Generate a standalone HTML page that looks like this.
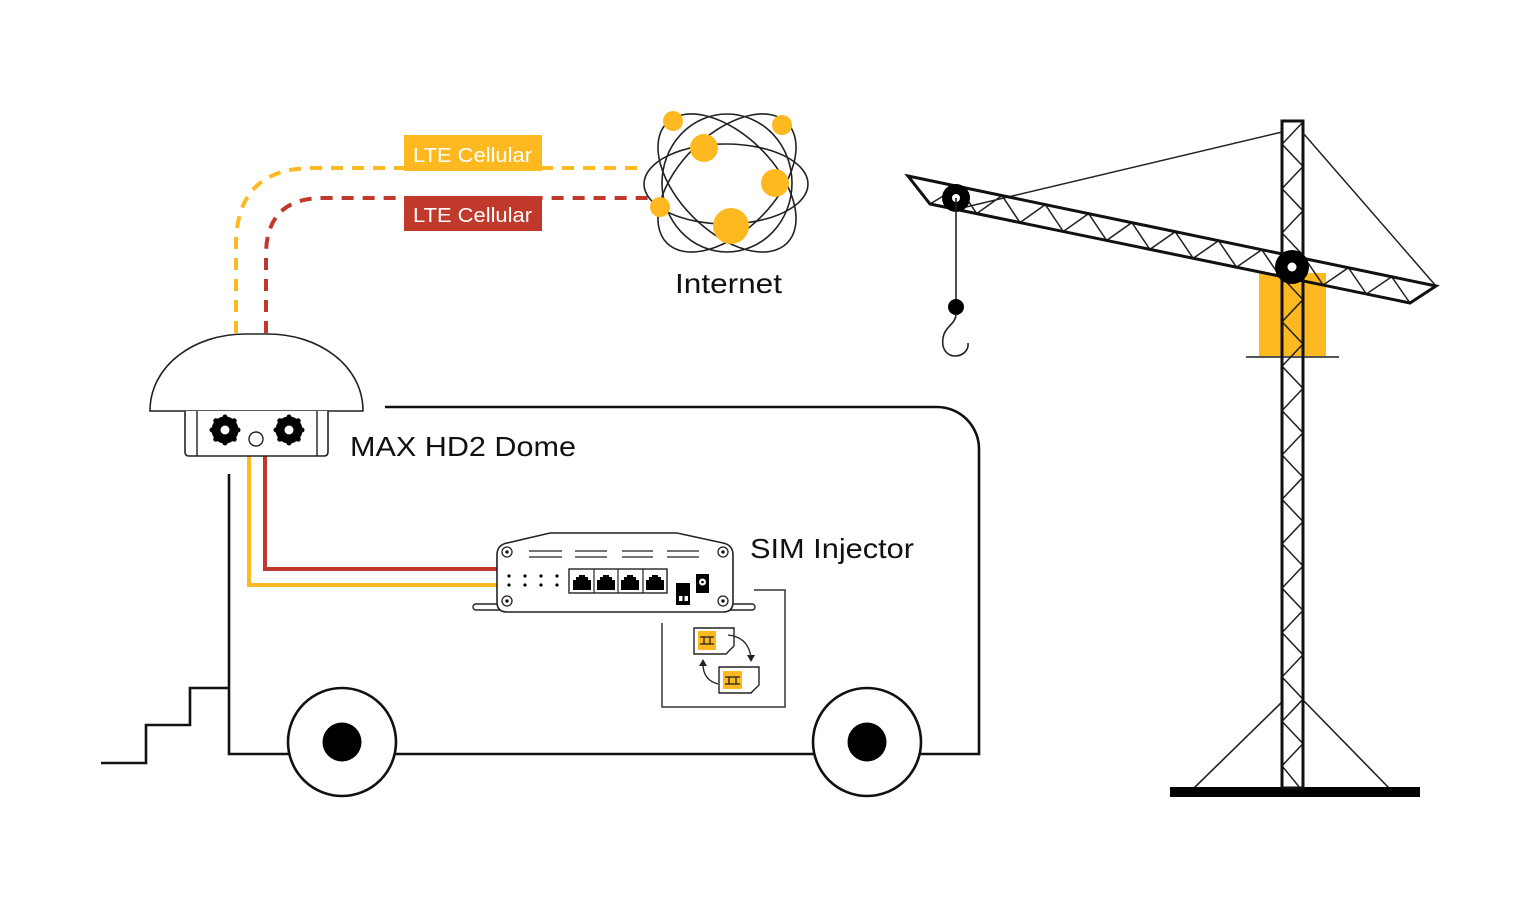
<!DOCTYPE html>
<html><head><meta charset="utf-8"><style>
html,body{margin:0;padding:0;background:#fff;}
svg{display:block;}
text{font-family:"Liberation Sans",sans-serif;}
</style></head><body>
<svg width="1536" height="900" viewBox="0 0 1536 900" xmlns="http://www.w3.org/2000/svg">
<rect width="1536" height="900" fill="#fff"/>

<!-- dashed LTE links -->
<path d="M236,333 V245 Q236,168 313,168 H645" fill="none" stroke="#FDB91F" stroke-width="4" stroke-dasharray="12 9"/>
<path d="M266,333 V255 Q266,198 323,198 H648" fill="none" stroke="#C0392B" stroke-width="4" stroke-dasharray="12 9"/>
<rect x="404" y="135" width="138" height="36" fill="#FDB91F"/>
<text x="413" y="162" font-size="20" fill="#fff" textLength="119" lengthAdjust="spacingAndGlyphs">LTE Cellular</text>
<rect x="404" y="196" width="138" height="35" fill="#C0392B"/>
<text x="413" y="222" font-size="20" fill="#fff" textLength="119" lengthAdjust="spacingAndGlyphs">LTE Cellular</text>

<!-- Internet globe -->
<g fill="none" stroke="#222" stroke-width="1.6">
<ellipse cx="726" cy="184" rx="82" ry="40"/>
<ellipse cx="727" cy="183" rx="85" ry="48" transform="rotate(45 727 183)"/>
<ellipse cx="727" cy="183" rx="85" ry="48" transform="rotate(-45 727 183)"/>
<ellipse cx="727" cy="183" rx="65" ry="69"/>
</g>
<g fill="#FDB91F">
<circle cx="673" cy="121" r="10"/>
<circle cx="782" cy="125" r="10"/>
<circle cx="704" cy="148" r="14"/>
<circle cx="775" cy="183" r="14"/>
<circle cx="660" cy="207" r="10"/>
<circle cx="731" cy="226" r="18"/>
</g>
<text x="675" y="293" font-size="28" fill="#111" textLength="107" lengthAdjust="spacingAndGlyphs">Internet</text>

<!-- Van body -->
<path d="M385,407 H937 A42,42 0 0 1 979,449 V754 H229 V474" fill="none" stroke="#111" stroke-width="2.6"/>
<path d="M229,688 H190 V725 H146 V763 H101" fill="none" stroke="#111" stroke-width="2.6"/>
<circle cx="342" cy="742" r="54" fill="#fff" stroke="#111" stroke-width="2.6"/>
<circle cx="342" cy="742" r="19.5" fill="#000"/>
<circle cx="867" cy="742" r="54" fill="#fff" stroke="#111" stroke-width="2.6"/>
<circle cx="867" cy="742" r="19.5" fill="#000"/>

<!-- cables -->
<path d="M265,456 V569 H498" fill="none" stroke="#C0392B" stroke-width="4"/>
<path d="M249,456 V585 H498" fill="none" stroke="#FDB91F" stroke-width="4"/>

<!-- Dome -->
<path d="M150,411 C150,365 195,334 245,334 L268,334 C318,334 363,365 363,411 Z" fill="#fff" stroke="#222" stroke-width="1.6"/>
<path d="M185,411 V452 Q185,456 189,456 H324 Q328,456 328,452 V411" fill="#fff" stroke="#222" stroke-width="1.6"/>
<line x1="197" y1="411" x2="197" y2="456" stroke="#222" stroke-width="1.4"/>
<line x1="317" y1="411" x2="317" y2="456" stroke="#222" stroke-width="1.4"/>
<g fill="#000">
<circle cx="225" cy="430" r="13.5"/>
<circle cx="225" cy="417" r="2.5"/><circle cx="225" cy="443" r="2.5"/><circle cx="212" cy="430" r="2.5"/><circle cx="238" cy="430" r="2.5"/>
<circle cx="215.8" cy="420.8" r="2.5"/><circle cx="234.2" cy="420.8" r="2.5"/><circle cx="215.8" cy="439.2" r="2.5"/><circle cx="234.2" cy="439.2" r="2.5"/>
<circle cx="289" cy="430" r="13.5"/>
<circle cx="289" cy="417" r="2.5"/><circle cx="289" cy="443" r="2.5"/><circle cx="276" cy="430" r="2.5"/><circle cx="302" cy="430" r="2.5"/>
<circle cx="279.8" cy="420.8" r="2.5"/><circle cx="298.2" cy="420.8" r="2.5"/><circle cx="279.8" cy="439.2" r="2.5"/><circle cx="298.2" cy="439.2" r="2.5"/>
</g>
<circle cx="225" cy="430" r="4.5" fill="#fff"/>
<circle cx="289" cy="430" r="4.5" fill="#fff"/>
<circle cx="256" cy="439" r="7" fill="#fff" stroke="#222" stroke-width="1.4"/>
<text x="350" y="456" font-size="28" fill="#111" textLength="226" lengthAdjust="spacingAndGlyphs">MAX HD2 Dome</text>

<!-- SIM injector device -->
<rect x="473" y="604" width="282" height="6" rx="3" fill="#fff" stroke="#222" stroke-width="1.4"/>
<path d="M507,543 L550,533 H677 L723,543 Q733,545 733,555 V602 Q733,612 723,612 H507 Q497,612 497,602 V555 Q497,545 507,543 Z" fill="#fff" stroke="#222" stroke-width="1.6"/>
<g fill="#fff" stroke="#222" stroke-width="1.3">
<circle cx="507" cy="552" r="5"/><circle cx="723" cy="552" r="5"/>
<circle cx="507" cy="601" r="5"/><circle cx="723" cy="601" r="5"/>
</g>
<g fill="#000">
<circle cx="507" cy="552" r="1.6"/><circle cx="723" cy="552" r="1.6"/>
<circle cx="507" cy="601" r="1.6"/><circle cx="723" cy="601" r="1.6"/>
<circle cx="509" cy="576" r="1.6"/><circle cx="525" cy="576" r="1.6"/><circle cx="541" cy="576" r="1.6"/><circle cx="557" cy="576" r="1.6"/>
<circle cx="509" cy="585" r="1.6"/><circle cx="525" cy="585" r="1.6"/><circle cx="541" cy="585" r="1.6"/><circle cx="557" cy="585" r="1.6"/>
</g>
<g stroke="#222" stroke-width="1.2">
<line x1="529" y1="551" x2="562" y2="551"/><line x1="529" y1="557" x2="562" y2="557"/>
<line x1="575" y1="551" x2="607" y2="551"/><line x1="575" y1="557" x2="607" y2="557"/>
<line x1="622" y1="551" x2="653" y2="551"/><line x1="622" y1="557" x2="653" y2="557"/>
<line x1="667" y1="551" x2="699" y2="551"/><line x1="667" y1="557" x2="699" y2="557"/>
</g>
<rect x="569" y="569" width="98" height="24" fill="#fff" stroke="#222" stroke-width="1.4"/>
<g stroke="#222" stroke-width="1.2">
<line x1="594" y1="569" x2="594" y2="593"/><line x1="618" y1="569" x2="618" y2="593"/><line x1="643" y1="569" x2="643" y2="593"/>
</g>
<g fill="#000">
<path d="M573,590 V580 H576 V577 H579 V575 H585 V577 H588 V580 H591 V590 Z"/>
<path d="M597,590 V580 H600 V577 H603 V575 H609 V577 H612 V580 H615 V590 Z"/>
<path d="M621,590 V580 H624 V577 H627 V575 H633 V577 H636 V580 H639 V590 Z"/>
<path d="M646,590 V580 H649 V577 H652 V575 H658 V577 H661 V580 H664 V590 Z"/>
<rect x="676" y="583" width="14" height="22"/>
<rect x="696" y="574" width="13" height="19"/>
</g>
<rect x="679" y="596" width="3.5" height="5" fill="#fff"/>
<rect x="684.5" y="596" width="3.5" height="5" fill="#fff"/>
<circle cx="702.5" cy="582" r="3.5" fill="#fff"/>
<circle cx="702.5" cy="582" r="1.3" fill="#000"/>
<text x="750" y="558" font-size="28" fill="#111" textLength="164" lengthAdjust="spacingAndGlyphs">SIM Injector</text>

<!-- SIM bracket -->
<path d="M754,590 H785 V707 H662 V623" fill="none" stroke="#333" stroke-width="1.5"/>
<path d="M694,628 H734 V646 L726,654 H694 Z" fill="#fff" stroke="#222" stroke-width="1.4"/>
<rect x="698" y="631" width="18" height="19" fill="#FDB91F"/>
<path d="M700,637 H714 M700,644 H714 M704,637 V644 M710,637 V644" stroke="#222" stroke-width="1.3" fill="none"/>
<path d="M719,667 H759 V685 L751,693 H719 Z" fill="#fff" stroke="#222" stroke-width="1.4"/>
<rect x="723" y="671" width="19" height="18" fill="#FDB91F"/>
<path d="M725,677 H740 M725,684 H740 M729,677 V684 M736,677 V684" stroke="#222" stroke-width="1.3" fill="none"/>
<path d="M728,635 Q748,637 751,657" fill="none" stroke="#222" stroke-width="1.3"/>
<path d="M747,655 L751,662 L755,655 Z" fill="#222"/>
<path d="M718,684 Q703,680 703,664" fill="none" stroke="#222" stroke-width="1.3"/>
<path d="M699,666 L703,659 L707,666 Z" fill="#222"/>

<!-- Crane -->
<rect x="1259" y="273" width="67" height="84" fill="#FDB91F"/>
<line x1="1246" y1="357" x2="1339" y2="357" stroke="#555" stroke-width="2"/>
<!-- struts and base -->
<line x1="1282" y1="702" x2="1194" y2="788" stroke="#222" stroke-width="1.6"/>
<line x1="1303" y1="700" x2="1389" y2="788" stroke="#222" stroke-width="1.6"/>
<rect x="1170" y="787" width="250" height="10" fill="#000"/>
<!-- mast -->
<polyline fill="none" stroke="#222" stroke-width="1.5" points="1303,122 1282,144.2 1303,166.4 1282,188.6 1303,210.8 1282,233 1303,255.2 1282,277.4 1303,299.6 1282,321.8 1303,344 1282,366.2 1303,388.4 1282,410.6 1303,432.8 1282,455 1303,477.2 1282,499.4 1303,521.6 1282,543.8 1303,566 1282,588.2 1303,610.4 1282,632.6 1303,654.8 1282,677 1303,699.2 1282,721.4 1303,743.6 1282,765.8 1300,788"/>
<rect x="1282" y="121" width="21" height="667" fill="none" stroke="#111" stroke-width="3"/>
<!-- ties -->
<line x1="1282" y1="132" x2="966" y2="207" stroke="#222" stroke-width="1.5"/>
<line x1="1303" y1="133" x2="1436" y2="286" stroke="#222" stroke-width="1.5"/>
<!-- jib lattice -->
<polyline fill="none" stroke="#222" stroke-width="1.5" points="930,204 958.7,186.6 976.7,213.6 1002,195.6 1020,222.6 1045.3,204.6 1063.3,231.5 1088.6,213.6 1106.6,240.4 1131.9,222.6 1149.9,249.4 1175.2,231.7 1193.2,258.3 1218.5,240.7 1236.5,267.2 1261.8,249.7 1279.8,276.2 1305.1,258.7 1323.1,285.1 1348.4,267.7 1366.4,294 1391.7,276.8 1410,303"/>
<polygon points="908,176 1436,286 1410,303 930,204" fill="none" stroke="#111" stroke-width="3" stroke-linejoin="miter"/>
<!-- pulleys -->
<circle cx="956" cy="198" r="14" fill="#000"/>
<circle cx="956" cy="198" r="4" fill="#fff"/>
<circle cx="1292" cy="267" r="17" fill="#000"/>
<circle cx="1292" cy="267" r="4.5" fill="#fff"/>
<!-- hook -->
<line x1="956" y1="198" x2="956" y2="300" stroke="#222" stroke-width="1.6"/>
<circle cx="956" cy="307" r="8" fill="#000"/>
<path d="M956,314 C956,324 945,326 943,338 C941,350 948,356 955,356 C963,356 969,350 968,343" fill="none" stroke="#222" stroke-width="1.6"/>
</svg>
</body></html>
